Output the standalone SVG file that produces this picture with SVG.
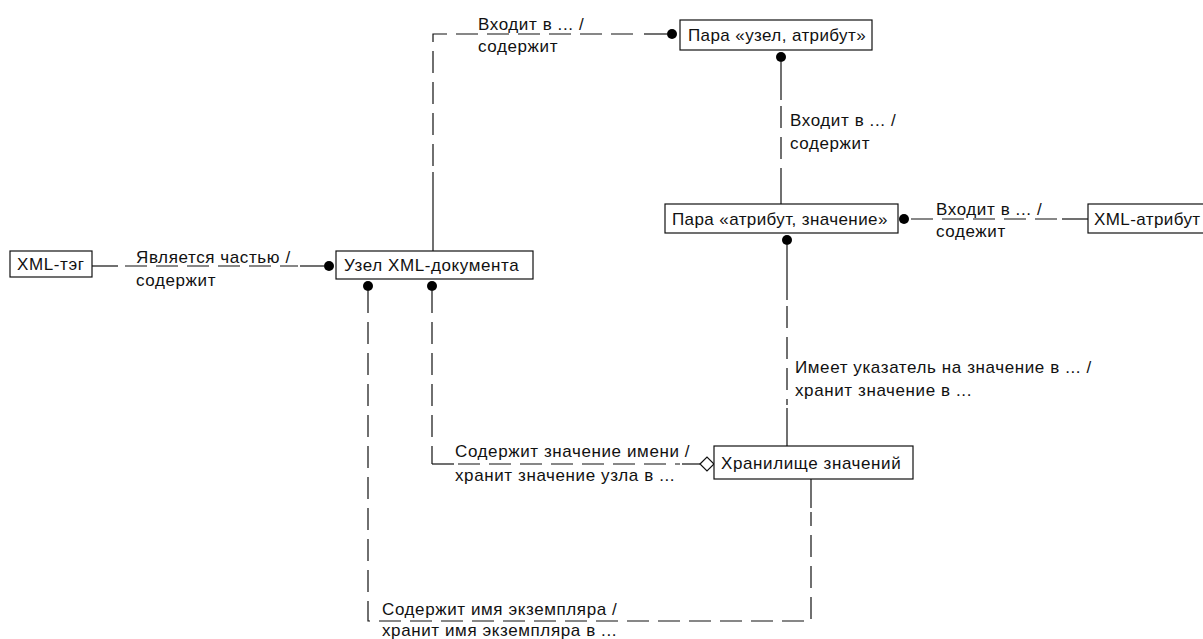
<svg xmlns="http://www.w3.org/2000/svg" width="1203" height="639" viewBox="0 0 1203 639">
<style>
text{font-family:"Liberation Sans","DejaVu Sans",sans-serif;font-size:17px;letter-spacing:0.6px;fill:#111}
.bt{letter-spacing:0.4px}
.box{fill:#fff;stroke:#111;stroke-width:1.2}
.s{fill:none;stroke:#111;stroke-width:1.2}
.d{fill:none;stroke:#111;stroke-width:1.2;stroke-dasharray:22 9}
.dot{fill:#000}
</style>
<rect width="1203" height="639" fill="#fff"/>
<g id="connectors">
<!-- XML-тэг -> Узел -->
<path class="s" d="M92 266H118"/>
<path class="d" d="M125 266H298"/>
<path class="s" d="M300 266H324"/>
<circle class="dot" cx="329" cy="266" r="5"/>
<!-- Узел -> Пара узел -->
<path class="s" d="M433 251V172"/>
<path class="d" d="M433 166V34H640"/>
<path class="s" d="M644 34H667"/>
<circle class="dot" cx="672" cy="34" r="5"/>
<!-- Пара узел -> Пара атрибут -->
<circle class="dot" cx="781" cy="57" r="5"/>
<path class="s" d="M781 62V100"/>
<path class="d" d="M781 106V166"/>
<path class="s" d="M781 168V204"/>
<!-- Пара атрибут -> XML-атрибут -->
<circle class="dot" cx="904" cy="219" r="5"/>
<path class="d" d="M911 219H1058"/>
<path class="s" d="M1062 219H1088"/>
<!-- Пара атрибут -> Хранилище -->
<circle class="dot" cx="787" cy="240" r="5"/>
<path class="s" d="M787 245V300"/>
<path class="d" d="M787 306V405"/>
<path class="s" d="M787 408V446"/>
<!-- Узел -> Хранилище (значение) -->
<circle class="dot" cx="432" cy="286" r="5"/>
<path class="d" d="M432 291V464"/>
<path class="s" d="M432 464H454"/>
<path class="d" d="M458 464H680"/>
<path class="s" d="M682 464H700"/>
<path d="M700 464L707 457L714 464L707 471Z" fill="#fff" stroke="#111" stroke-width="1.2"/>
<!-- Узел -> Хранилище (имя) -->
<circle class="dot" cx="368" cy="286" r="5"/>
<path class="d" d="M368 291V621H811V512"/>
<path class="s" d="M811 508V479"/>
</g>
<g id="labels">
<text x="136" y="263">Является частью /</text>
<text x="136" y="286">содержит</text>
<text x="478" y="30">Входит в ... /</text>
<text x="478" y="52">содержит</text>
<text x="790" y="126">Входит в ... /</text>
<text x="790" y="149">содержит</text>
<text x="936" y="215">Входит в ... /</text>
<text x="936" y="237">содежит</text>
<text x="795" y="373">Имеет указатель на значение в ... /</text>
<text x="795" y="396">хранит значение в ...</text>
<text x="455" y="457">Содержит значение имени /</text>
<text x="455" y="481">хранит значение узла в ...</text>
<text x="382" y="615">Содержит имя экземпляра /</text>
<text x="382" y="636">хранит имя экземпляра в ...</text>
</g>
<g id="node-xml-tag"><rect class="box" x="10" y="251" width="82" height="26"/><text x="17" y="270">XML-тэг</text></g>
<g id="node-uzel"><rect class="box" x="336" y="251" width="197" height="28"/><text x="344" y="271">Узел XML-документа</text></g>
<g id="node-para-uzel"><rect class="box" x="680" y="20" width="192" height="30"/><text class="bt" x="688" y="41">Пара «узел, атрибут»</text></g>
<g id="node-para-attr"><rect class="box" x="665" y="204" width="233" height="29"/><text class="bt" x="672" y="225">Пара «атрибут, значение»</text></g>
<g id="node-xml-attr"><rect class="box" x="1088" y="204" width="130" height="29"/><text class="bt" x="1094" y="225">XML-атрибут</text></g>
<g id="node-store"><rect class="box" x="714" y="446" width="199" height="33"/><text x="721" y="469">Хранилище значений</text></g>
</svg>
